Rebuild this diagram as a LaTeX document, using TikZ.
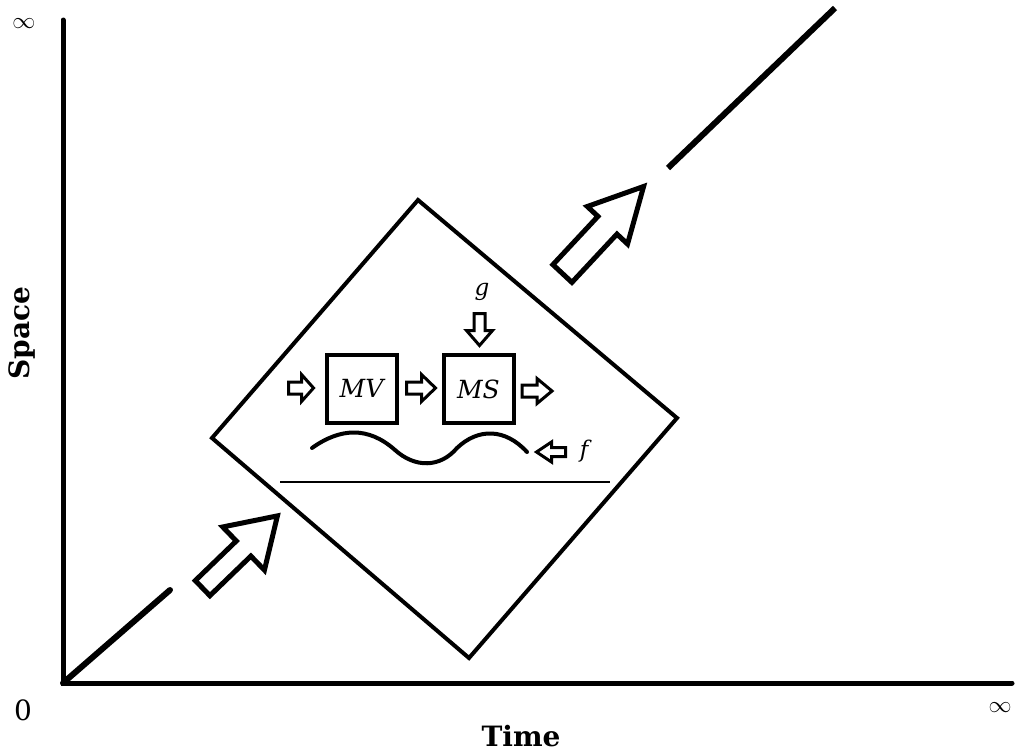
\documentclass[tikz,border=0pt]{standalone}
\usepackage{fontspec}
\usepackage{graphicx}
\setmainfont{DejaVu Serif}
\newcommand\barrowdraw[8]{% center, angle, L, s, h, k, lw, name
  \coordinate (#8) at (#1);
  \draw[line width=#7,line join=miter,shift={(#8)},rotate=#2]
    ({-#3/2},{-#4}) -- ({#3/2-#6},{-#4}) -- ({#3/2-#6},{-#5}) -- ({#3/2},0)
    -- ({#3/2-#6},{#5}) -- ({#3/2-#6},{#4}) -- ({-#3/2},{#4}) -- cycle;}
\begin{document}
\begin{tikzpicture}[x=1pt,y=-1pt,
  axis/.style={line width=5pt,line cap=round},
  diag/.style={line width=6pt},
  boxst/.style={draw,line width=4pt,minimum width=70pt,minimum height=68pt,inner sep=0pt,
    font=\fontsize{25}{30}\selectfont\itshape},
  lbl/.style={font=\fontsize{28}{32}\selectfont\bfseries},
  var/.style={font=\fontsize{23}{28}\selectfont\itshape}]
\useasboundingbox (0,0) rectangle (1016,755);
% axes
\coordinate (O) at (63,683);
\coordinate (Ytop) at (63,20);
\coordinate (Xend) at (1012,683);
\draw[axis] (Ytop) -- (O) -- (Xend);
% diagonal segments
\coordinate (D1) at (170,590);
\coordinate (D2) at (668,168);
\coordinate (D3) at (835,8);
\draw[diag,line cap=round] (O) -- (D1);
\draw[diag] (D2) -- (D3);
% diamond
\coordinate (T) at (418,200);
\coordinate (R) at (677,418);
\coordinate (B) at (469,658);
\coordinate (L) at (212,438);
\draw[line width=4pt,line join=miter] (T) -- (R) -- (B) -- (L) -- cycle;
% base line
\coordinate (H1) at (280,482);
\coordinate (H2) at (610,482);
\draw[line width=2.5pt] (H1) -- (H2);
% wave
\coordinate (W0) at (312,448);
\coordinate (W1) at (527,452);
\draw[line width=4pt,line cap=round] (W0) .. controls (340,428) and (368,426) .. (395,450)
  .. controls (415,468) and (440,468) .. (457,448)
  .. controls (478,428) and (505,428) .. (W1);
% boxes
\node[boxst] (MV) at (361.5,388.5) {MV};
\node[boxst] (MS) at (478.5,389) {MS};
% small arrows
\barrowdraw{301,388}{0}{25}{6}{13.5}{12}{3pt}{a1}
\barrowdraw{421,388}{0}{29}{6}{13.5}{14}{3pt}{a2}
\barrowdraw{537,391}{0}{30}{6}{12.5}{15}{3pt}{a3}
\barrowdraw{479.5,329.5}{-90}{32}{5.5}{13}{15}{3pt}{a4}
\barrowdraw{551,452}{180}{29}{4.5}{10}{15}{3pt}{a5}
\node[var] (g) at (482,292) {g};
\node[var] (f) at (584,451) {f};
% big arrows
\barrowdraw{240,552}{44}{104}{10.5}{30}{47}{5pt}{A1}
\barrowdraw{603,230}{47}{119}{13}{27.5}{53}{5pt}{A2}
% labels
\node[lbl,rotate=90] (sp) at (22,333) {Space};
\node[lbl] (tm) at (521,736) {Time};
\node[font=\fontsize{28}{32}\selectfont] (zero) at (23,710) {0};
\node (i1) at (24,24) {\scalebox{2.3}{$\infty$}};
\node (i2) at (1000,708) {\scalebox{2.3}{$\infty$}};
\end{tikzpicture}
\end{document}
